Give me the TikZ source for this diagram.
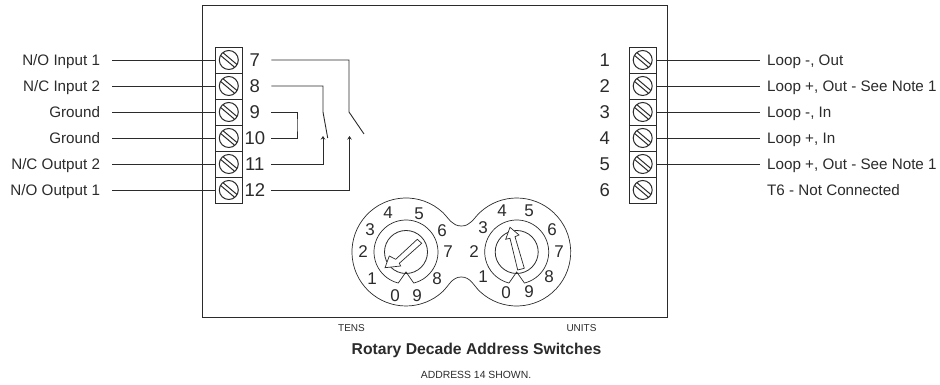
\documentclass[tikz,border=0pt]{standalone}
\usepackage{fontspec}
\setmainfont{Liberation Sans}
\usetikzlibrary{positioning, arrows.meta}
\definecolor{ink}{gray}{0.17}
\tikzstyle{terminal} = [rectangle, minimum width=27, minimum height=26, inner sep=0, outer sep=0,
                        draw=ink, line width=0.8pt,
                        path picture={\draw [shift={(path picture bounding box.center)}, line width=1pt]
                          (0,0) circle (9.5)
                          (-5.85,7.3) -- (8.15,-4.5)
                          (-8.15,4.5) -- (5.85,-7.3);}]
\tikzstyle{num} = [minimum width=33, inner sep=0, outer sep=0, text height=13.5, text depth=0,
                   font=\fontsize{18.5}{19}\selectfont, text=ink]
\tikzstyle{leftlab} = [anchor=east, inner xsep=12, inner ysep=0, outer sep=0, text height=10.9, text depth=0,
                       font=\fontsize{15.2}{15.2}\selectfont, text=ink]
\tikzstyle{rightlab} = [anchor=west, inner xsep=7, inner ysep=0, outer sep=0, text height=10.9, text depth=0,
                        font=\fontsize{15.2}{15.2}\selectfont, text=ink]
\tikzstyle{digit} = [inner sep=0, font=\fontsize{17}{17}\selectfont, text=ink]
\tikzstyle{small} = [inner sep=0, font=\fontsize{10.4}{10.4}\selectfont, text=ink]
\tikzstyle{tiny} = [inner sep=0, font=\fontsize{10}{10}\selectfont, text=ink]
\tikzstyle{wire} = [draw=ink, line width=0.9pt]
\tikzstyle{contact} = [wire, -{Stealth[length=3.5pt, width=4.5pt]}]
\tikzstyle{thin} = [draw=ink, line width=0.7pt]
\tikzstyle{dial} = [circle, draw=ink, line width=0.8pt, inner sep=0, outer sep=0, minimum size=43]
\begin{document}
\begin{tikzpicture}[x=1pt, y=1pt]
\useasboundingbox (0,0) rectangle (940,385);
\node (housing) [draw=ink, line width=1pt, minimum width=465, minimum height=312, inner sep=0, outer sep=0] at (434.5,223) {};

\node (t7) [terminal] at (228.8,325) {};
\node (t8) [terminal, below=0pt of t7] {};
\node (t9) [terminal, below=0pt of t8] {};
\node (t10) [terminal, below=0pt of t9] {};
\node (t11) [terminal, below=0pt of t10] {};
\node (t12) [terminal, below=0pt of t11] {};
\node (t1) [terminal] at (642.7,325) {};
\node (t2) [terminal, below=0pt of t1] {};
\node (t3) [terminal, below=0pt of t2] {};
\node (t4) [terminal, below=0pt of t3] {};
\node (t5) [terminal, below=0pt of t4] {};
\node (t6) [terminal, below=0pt of t5] {};

\node (n7) [num, right=-4pt of t7] {7};
\node (n8) [num, right=-4pt of t8] {8};
\node (n9) [num, right=-4pt of t9] {9};
\node (n10) [num, right=-4pt of t10] {10};
\node (n11) [num, right=-4pt of t11] {11};
\node (n12) [num, right=-4pt of t12] {12};
\node (n1) [num, left=8pt of t1] {1};
\node (n2) [num, left=8pt of t2] {2};
\node (n3) [num, left=8pt of t3] {3};
\node (n4) [num, left=8pt of t4] {4};
\node (n5) [num, left=8pt of t5] {5};
\node (n6) [num, left=8pt of t6] {6};

\node (noin) [leftlab, left=103.3pt of t7] {N/O Input 1};
\node (ncin) [leftlab, left=103.3pt of t8] {N/C Input 2};
\node (gnda) [leftlab, left=103.3pt of t9] {Ground};
\node (gndb) [leftlab, left=103.3pt of t10] {Ground};
\node (ncout) [leftlab, left=103.3pt of t11] {N/C Output 2};
\node (noout) [leftlab, left=103.3pt of t12] {N/O Output 1};
\node (loopa) [rightlab, right=104pt of t1] {Loop -, Out};
\node (loopb) [rightlab, right=104pt of t2] {Loop +, Out - See Note 1};
\node (loopc) [rightlab, right=104pt of t3] {Loop -, In};
\node (loopd) [rightlab, right=104pt of t4] {Loop +, In};
\node (loope) [rightlab, right=104pt of t5] {Loop +, Out - See Note 1};
\node (loopf) [rightlab, right=104pt of t6] {T6 - Not Connected};

\draw [wire] (noin) -- (t7);
\draw [wire] (ncin) -- (t8);
\draw [wire] (gnda) -- (t9);
\draw [wire] (gndb) -- (t10);
\draw [wire] (ncout) -- (t11);
\draw [wire] (noout) -- (t12);
\draw [wire] (t1) -- (loopa);
\draw [wire] (t2) -- (loopb);
\draw [wire] (t3) -- (loopc);
\draw [wire] (t4) -- (loopd);
\draw [wire] (t5) -- (loope);

\coordinate (hingea) at (349,273);
\coordinate (bladea) at (364,251);
\coordinate (tipa) at (349.5,249);
\coordinate (hingeb) at (323,273);
\coordinate (bladeb) at (327.7,247);
\coordinate (tipb) at (323,249);
\coordinate (jumper) at (297,260);
\draw [wire] (n7.east) -| (hingea) -- (bladea);
\draw [contact] (n12.east) -| (tipa);
\draw [wire] (n8.east) -| (hingeb) -- (bladeb);
\draw [contact] (n11.east) -| (tipb);
\draw [wire] (n9.east) -| (jumper) |- (n10.east);

\node (dialL) [dial] at (406,133) {};
\node (dialR) [dial] at (516.7,133) {};
\draw [thin] (442.8,172.5) arc (47:313:54)
  .. controls (449,99.5) and (452,108) .. (461.4,108)
  .. controls (470.5,108) and (473.5,99.5) .. ([shift={(227:54)}]dialR.center)
  arc (227:493:54)
  .. controls (473.5,166.5) and (470.5,159) .. (461.4,159)
  .. controls (452,159) and (449,166.5) .. (442.8,172.5);
\draw [thin] ([shift={(-76:32)}]dialL.center) arc (-76:256:32) -- ([shift={(0,-20)}]dialL.center) -- cycle;
\draw [thin] ([shift={(-76:32)}]dialR.center) arc (-76:256:32) -- ([shift={(0,-20)}]dialR.center) -- cycle;
\draw [thin, fill=white] (417.3,145.7) -- (395.7,125.7) -- (389.3,129) -- (385,117.3) -- (400.7,119) -- (399.3,121.7) -- (421.7,141.7) -- cycle;
\draw [thin, fill=white] (517.7,115) -- (510,146.7) -- (505.7,145.7) -- (510,157.7) -- (519,150) -- (515,148.3) -- (524.3,116.7) -- cycle;

\node (la) [digit] at (395,89) {0};
\node (lb) [digit] at (417,89) {9};
\node (lc) [digit] at (437,106) {8};
\node (ld) [digit] at (448,133) {7};
\node (le) [digit] at (442,154) {6};
\node (lf) [digit] at (419,171) {5};
\node (lg) [digit] at (388,172) {4};
\node (lh) [digit] at (370,155) {3};
\node (li) [digit] at (363,133) {2};
\node (lj) [digit] at (372,106) {1};
\node (ra) [digit] at (506,92) {0};
\node (rb) [digit] at (529,93) {9};
\node (rc) [digit] at (549,108) {8};
\node (rd) [digit] at (559,133) {7};
\node (re) [digit] at (552,155) {6};
\node (rf) [digit] at (529,174) {5};
\node (rg) [digit] at (502,174) {4};
\node (rh) [digit] at (483,157) {3};
\node (ri) [digit] at (474,133) {2};
\node (rj) [digit] at (483,108) {1};

\node (tens) [tiny] at (351.5,57) {TENS};
\node (units) [tiny] at (581.5,57) {UNITS};
\node (title) [inner sep=0, text=ink, font=\fontsize{15.7}{15.7}\selectfont\bfseries] at (476.5,35) {Rotary Decade Address Switches};
\node (note) [small] at (476,10) {ADDRESS 14 SHOWN.};
\end{tikzpicture}
\end{document}
